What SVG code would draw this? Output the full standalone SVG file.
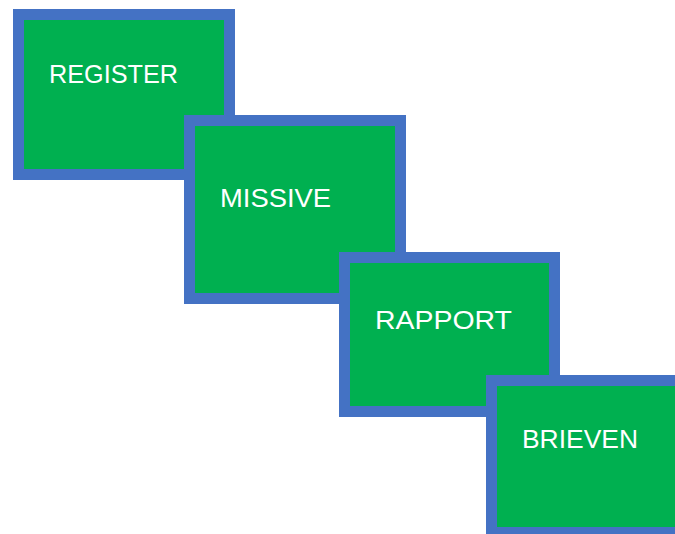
<svg xmlns="http://www.w3.org/2000/svg" width="675" height="534" viewBox="0 0 675 534">
<style>
.box{fill:#00B050;stroke:#4472C4;stroke-width:11}
.lbl{font-family:"Liberation Sans",Arial,sans-serif;font-size:26px;fill:#FFFFFF;lengthAdjust:spacingAndGlyphs}
</style>
<rect width="675" height="534" fill="#FFFFFF"/>
<g id="connectors"></g>
<g id="register">
<rect class="box" x="18.5" y="14.5" width="211" height="160"/>
<text class="lbl" x="49" y="83" textLength="129" lengthAdjust="spacingAndGlyphs">REGISTER</text>
</g>
<g id="missive">
<rect class="box" x="189.5" y="120.5" width="211" height="178"/>
<text class="lbl" x="220" y="207" textLength="111" lengthAdjust="spacingAndGlyphs">MISSIVE</text>
</g>
<g id="rapport">
<rect class="box" x="344.5" y="257.5" width="210" height="154"/>
<text class="lbl" x="375" y="329" textLength="137" lengthAdjust="spacingAndGlyphs">RAPPORT</text>
</g>
<g id="brieven">
<rect class="box" x="491.5" y="380.5" width="220" height="152"/>
<text class="lbl" x="522" y="448" textLength="116" lengthAdjust="spacingAndGlyphs">BRIEVEN</text>
</g>
</svg>
